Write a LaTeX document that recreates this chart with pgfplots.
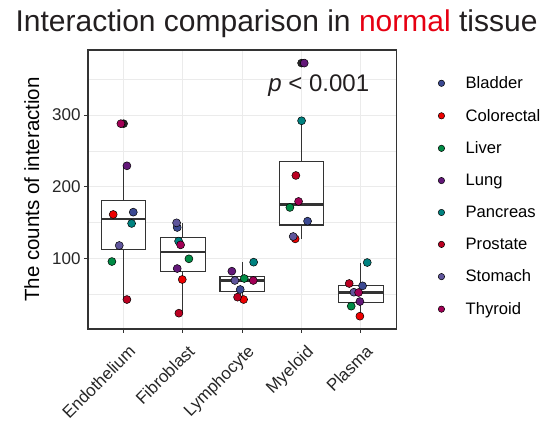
\documentclass[border=0pt]{standalone}
\usepackage{pgfplots}
\pgfplotsset{compat=1.18}
\usepackage{fontspec}
\setmainfont{Liberation Sans}

% AAAS-style palette for the cancer types
\definecolor{cBladder}{HTML}{3B4992}
\definecolor{cColorectal}{HTML}{EE0000}
\definecolor{cLiver}{HTML}{008B45}
\definecolor{cLung}{HTML}{631879}
\definecolor{cPancreas}{HTML}{008280}
\definecolor{cProstate}{HTML}{BB0021}
\definecolor{cStomach}{HTML}{5F559B}
\definecolor{cThyroid}{HTML}{A20056}
\definecolor{gridgray}{HTML}{EBEBEB}
\definecolor{framegray}{HTML}{333333}
\definecolor{titlered}{HTML}{E60012}
\definecolor{titleblack}{HTML}{231F20}

\pgfplotsset{
  dotstyle/.style={only marks, mark=*, mark size=4pt,
    mark options={draw=black, line width=0.5pt, fill=#1}},
  boxstyle/.style={forget plot, draw=framegray, fill=white, line width=1.1pt, mark=none},
}

\begin{document}
\begin{tikzpicture}
\useasboundingbox (0pt,0pt) rectangle (558pt,422pt);
\begin{axis}[
  at={(88pt,93pt)}, anchor=south west,
  scale only axis, width=308.5pt, height=279pt,
  xmin=0.4, xmax=5.6, ymin=1, ymax=391,
  xtick={1,2,3,4,5},
  xticklabels={Endothelium,Fibroblast,Lymphocyte,Myeloid,Plasma},
  ytick={100,200,300},
  minor ytick={50,150,250,350},
  grid=both,
  major grid style={gridgray, line width=1pt},
  minor grid style={gridgray, line width=0.6pt},
  axis line style={framegray, line width=1.1pt},
  tick style={framegray, line width=1pt},
  major tick length=4pt,
  minor tick length=0pt,
  tick align=outside,
  tick pos=left,
  /pgf/number format/assume math mode=true,
  ticklabel style={font=\fontsize{17}{19}\selectfont, text=black!85},
  xticklabel style={xshift=4pt, yshift=-8pt, rotate=45, anchor=north east, inner sep=2pt},
  ylabel={The counts of interaction},
  ylabel style={font=\fontsize{20.5}{24}\selectfont, text=black, yshift=6pt},
  unbounded coords=jump,
  legend cell align=left,
  legend style={at={(1.125,0.92)}, anchor=north west, draw=none, fill=none,
    font=\fontsize{16.6}{19}\selectfont, row sep=15pt,
    /tikz/every odd column/.append style={column sep=19pt}},
  legend image post style={mark size=3.2pt},
]
% whiskers
\addplot[boxstyle] coordinates {
  (1,42.2) (1,229.1) (1,nan)
  (2,23.1) (2,149.4) (2,nan)
  (3,42.2) (3,94.4) (3,nan)
  (4,127.0) (4,292.1) (4,nan)
  (5,18.9) (5,93.9)};
% boxes: lower and upper quartile, width 0.75
\addplot[boxstyle] coordinates {(0.625,112.3) (1.375,112.3) (1.375,180.3) (0.625,180.3)} -- cycle;
\addplot[boxstyle] coordinates {(1.625,81.7) (2.375,81.7) (2.375,128.6) (1.625,128.6)} -- cycle;
\addplot[boxstyle] coordinates {(2.625,53.5) (3.375,53.5) (3.375,74.2) (2.625,74.2)} -- cycle;
\addplot[boxstyle] coordinates {(3.625,146.4) (4.375,146.4) (4.375,234.7) (3.625,234.7)} -- cycle;
\addplot[boxstyle] coordinates {(4.625,37.8) (5.375,37.8) (5.375,62.1) (4.625,62.1)} -- cycle;
% medians
\addplot[boxstyle, line width=2.6pt] coordinates {
  (0.625,154.8) (1.375,154.8) (1.5,nan)
  (1.625,108.9) (2.375,108.9) (2.5,nan)
  (2.625,68.8) (3.375,68.8) (3.5,nan)
  (3.625,175.1) (4.375,175.1) (4.5,nan)
  (4.625,52.2) (5.375,52.2)};
% outliers
\addplot[forget plot, only marks, mark=*, mark size=4pt, mark options={draw=black, fill=black!85}] coordinates {(1,288.0) (4,372.7)};
% jittered observations
\addplot[dotstyle=cBladder] coordinates {(1.163,164.3) (1.904,142.9) (2.966,56.2) (4.101,151.7) (5.028,61.3)};
\addlegendentry{Bladder}
\addplot[dotstyle=cColorectal] coordinates {(0.825,161.1) (1.989,70.2) (3.023,42.2) (3.893,127.0) (4.983,18.9)};
\addlegendentry{Colorectal}
\addplot[dotstyle=cLiver] coordinates {(0.803,95.3) (2.101,99.1) (3.034,71.6) (3.803,170.9) (4.837,32.9)};
\addlegendentry{Liver}
\addplot[dotstyle=cLung] coordinates {(1.056,229.1) (1.904,85.5) (2.825,81.8) (4.045,372.7) (4.983,39.4)};
\addlegendentry{Lung}
\addplot[dotstyle=cPancreas] coordinates {(1.135,148.5) (1.927,123.8) (3.192,94.4) (4.000,292.1) (5.107,93.9)};
\addlegendentry{Pancreas}
\addplot[dotstyle=cProstate] coordinates {(1.056,42.2) (1.932,23.1) (2.921,45.5) (3.904,215.6) (4.803,64.6)};
\addlegendentry{Prostate}
\addplot[dotstyle=cStomach] coordinates {(0.927,117.7) (1.893,149.4) (2.876,68.8) (3.859,130.3) (4.882,52.4)};
\addlegendentry{Stomach}
\addplot[dotstyle=cThyroid] coordinates {(0.955,288.0) (1.961,118.6) (3.186,68.8) (3.949,179.3) (4.961,52.0)};
\addlegendentry{Thyroid}
\node[font=\fontsize{24}{28}\selectfont, text=titleblack] at (axis cs:4.29,341) {\textit{p} < 0.001};
\end{axis}
\node[anchor=base, font=\fontsize{30}{34}\selectfont, text=titleblack] at (276.5pt,390pt)
  {Interaction comparison in \textcolor{titlered}{normal} tissue};
\end{tikzpicture}
\end{document}
